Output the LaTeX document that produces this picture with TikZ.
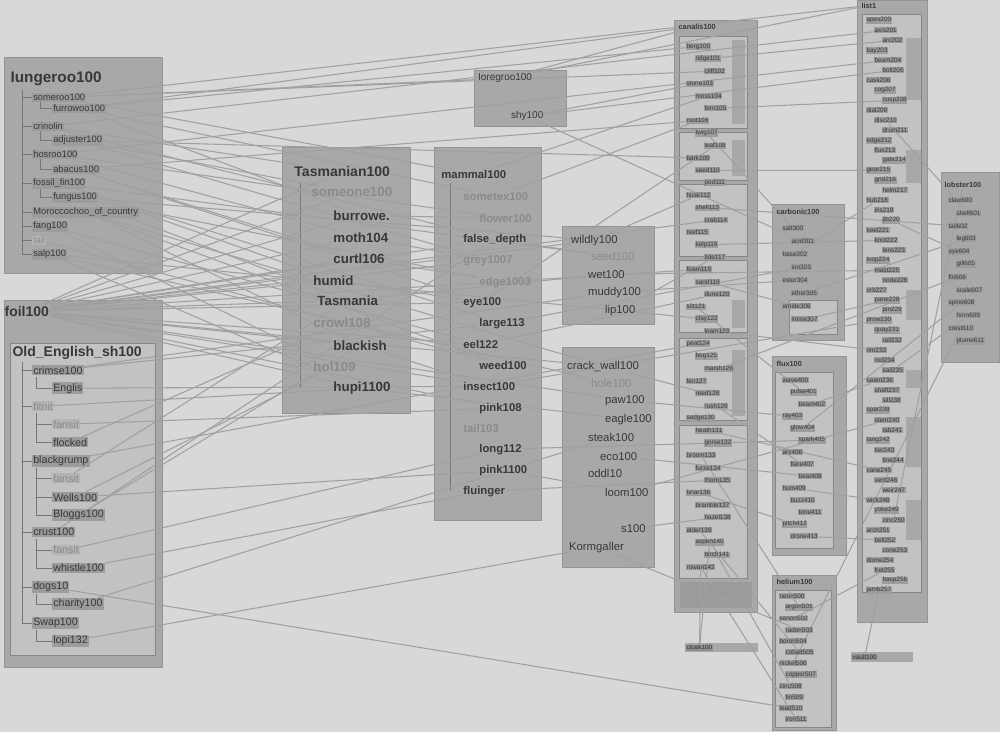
\documentclass[tikz,border=0pt]{standalone}
\usepackage{fontspec}
\setmainfont{Liberation Sans}
\pgfdeclarelayer{boxes}
\pgfdeclarelayer{links}
\pgfsetlayers{boxes,links,main}
\definecolor{bg}{HTML}{D8D8D8}
\definecolor{boxA}{HTML}{A8A8A8}
\definecolor{boxB}{HTML}{C2C2C2}
\definecolor{boxC}{HTML}{B4B4B4}
\definecolor{itemc}{HTML}{9C9C9C}
\definecolor{txt}{HTML}{383838}
\definecolor{txtL}{HTML}{8A8A8A}
\definecolor{edgec}{HTML}{A0A0A0}
\tikzset{
  bigbox/.style={fill=boxA, draw=boxA!88!black, line width=0.6pt},
  subbox/.style={fill=boxB, draw=boxA!80!black, line width=0.5pt},
  ttl/.style={anchor=west, inner sep=1pt, text=txt, font=\fontsize{10.5}{11}\selectfont\bfseries},
  itm/.style={anchor=west, inner sep=0.8pt, fill=itemc, text=txt, font=\fontsize{7}{8}\selectfont},
  itmL/.style={itm, text=txtL, fill=boxC},
  ob/.style={itm, font=\fontsize{8}{9}\selectfont},
  obL/.style={ob, text=txtL, fill=boxC},
  mid/.style={anchor=west, inner sep=1pt, text=txt, font=\fontsize{10}{11}\selectfont\bfseries},
  midL/.style={mid, text=txtL},
  mam/.style={mid, font=\fontsize{8.5}{9}\selectfont\bfseries},
  mamL/.style={mam, text=txtL},
  sm/.style={anchor=west, inner sep=0.8pt, text=txt, font=\fontsize{8.5}{9}\selectfont},
  smL/.style={sm, text=txtL},
  tiny/.style={anchor=west, inner sep=0.5pt, fill=itemc, text=txt, font=\fontsize{4.8}{5}\selectfont},
  tt/.style={tiny, fill=none, font=\fontsize{5.5}{6}\selectfont\bfseries},
  tree/.style={draw=boxA!70!black, line width=0.4pt},
  link/.style={draw=edgec, line width=0.8pt},
}
\begin{document}
\begin{tikzpicture}[x=0.75pt,y=-0.75pt]
\begin{pgfonlayer}{boxes}
\fill[bg] (0,0) rectangle (1000,732);
% ---------------- boxes ----------------
\draw[bigbox] (4,57) rectangle (162,273);
\draw[bigbox] (4,300) rectangle (162,667);
\draw[subbox] (10,343) rectangle (155,655);
\draw[bigbox] (283,147) rectangle (411,413);
\draw[bigbox] (435,147) rectangle (542,520);
\draw[bigbox] (475,70) rectangle (567,126);
\draw[bigbox] (563,226) rectangle (655,324);
\draw[bigbox] (563,347) rectangle (655,567);
% column C
\draw[bigbox] (675,20) rectangle (758,612);
\foreach \ya/\yb in {36/128,132/180,184/256,260/332,338/420,425/578}
  {\draw[subbox] (680,\ya) rectangle (748,\yb);}
\foreach \ya/\yb in {40/124,140/176,300/328,350/416}
  {\fill[boxA] (732,\ya) rectangle (745,\yb);}
\fill[boxA!92!black] (680,582) rectangle (752,608);
% boxes 9,10,11
\draw[bigbox] (773,204) rectangle (845,340);
\draw[subbox] (790,300) rectangle (838,334);
\draw[bigbox] (773,356) rectangle (847,555);
\draw[subbox] (776,372) rectangle (834,548);
\draw[bigbox] (773,575) rectangle (837,730);
\draw[subbox] (776,590) rectangle (832,727);
% column R
\draw[bigbox] (858,0) rectangle (928,622);
\draw[subbox] (863,14) rectangle (922,592);
\foreach \ya/\yb in {38/100,150/183,290/320,370/388,417/467,500/540}
  {\fill[boxA] (906,\ya) rectangle (921,\yb);}
% box 13
\draw[bigbox] (942,172) rectangle (1000,362);
% small bars
\fill[boxA] (685,643) rectangle (758,652);
\fill[boxA] (851,652) rectangle (913,662);
% ---------------- tree lines ----------------
\draw[tree] (22,90) -- (22,254);
\foreach \y in {97,126,154,183,212,226,240,254} {\draw[tree] (22,\y) -- (32,\y);}
\foreach \ya/\yb in {101/108,131/140,159/169,188/197} {\draw[tree] (40,\ya) -- (40,\yb) -- (52,\yb);}
\draw[tree] (22,362) -- (22,623);
\foreach \y in {370,406,461,532,587,623} {\draw[tree] (22,\y) -- (32,\y);}
\foreach \ya/\yb in {377/388,413/442,468/515,539/568,594/604,630/641} {\draw[tree] (36,\ya) -- (36,\yb);}
\foreach \y in {388,424,442,478,497,515,550,568,604,641} {\draw[tree] (36,\y) -- (52,\y);}
\draw[tree] (300,182) -- (300,388);
\draw[tree] (450,183) -- (450,491);
\end{pgfonlayer}
\useasboundingbox (0,0) rectangle (1000,732);

% ---------------- left top box ----------------
\node[ttl, font=\fontsize{11.5}{12}\selectfont\bfseries] (iung) at (9,78) {Iungeroo100};
\node[itm] (ia) at (32,97) {someroo100};
\node[itm] (ib) at (52,108) {furrowoo100};
\node[itm] (ic) at (32,126) {crinolin};
\node[itm] (id) at (52,140) {adjuster100};
\node[itm] (ie) at (32,154) {hosroo100};
\node[itm] (if) at (52,169) {abacus100};
\node[itm] (ig) at (32,183) {fossil\_fin100};
\node[itm] (ih) at (52,197) {fungus100};
\node[itm] (ii) at (32,212) {Moroccochoo\_of\_country};
\node[itm] (ij) at (32,226) {fang100};
\node[itmL] (ik) at (32,240) {tail};
\node[itm] (il) at (32,254) {salp100};

% ---------------- foil box ----------------
\node[ttl] (f0) at (3,311) {foil100};
\node[ttl] (oe0) at (11,353) {Old\_English\_sh100};
\node[ob] (oa) at (32,370) {crimse100};
\node[ob] (ob) at (52,388) {Englis};
\node[obL] (oc) at (32,406) {fitnit};
\node[obL] (od) at (52,424) {fansit};
\node[ob] (oe) at (52,442) {flocked};
\node[ob] (of) at (32,461) {blackgrump};
\node[obL] (og) at (52,478) {fansit};
\node[ob] (oh) at (52,497) {Wells100};
\node[ob] (oi) at (52,515) {Bloggs100};
\node[ob] (oj) at (32,532) {crust100};
\node[obL] (ok) at (52,550) {fansit};
\node[ob] (ol) at (52,568) {whistle100};
\node[ob] (om) at (32,587) {dogs10};
\node[ob] (on) at (52,604) {charity100};
\node[ob] (oo) at (32,623) {Swap100};
\node[ob] (op) at (52,641) {lopi132};

% ---------------- Tasmanian box ----------------
\node[mid, font=\fontsize{10.5}{11}\selectfont\bfseries] (ta) at (293,171) {Tasmanian100};
\node[midL] (tb) at (310,192) {someone100};
\node[mid] (tc) at (332,215) {burrowe.};
\node[mid] (td) at (332,237) {moth104};
\node[mid] (te) at (332,258) {curtl106};
\node[mid] (tf) at (312,280) {humid};
\node[mid] (tg) at (316,300) {Tasmania};
\node[midL] (th) at (312,322) {crowl108};
\node[mid] (ti) at (332,345) {blackish};
\node[midL] (tj) at (312,366) {hol109};
\node[mid] (tk) at (332,388) {hupi1100};

% ---------------- mammal box ----------------
\node[mam] (ma) at (440,174) {mammal100};
\node[mamL] (mb) at (462,196) {sometex100};
\node[mamL] (mc) at (478,218) {flower100};
\node[mam] (md) at (462,239) {false\_depth};
\node[mamL] (me) at (462,260) {grey1007};
\node[mamL] (mf) at (478,282) {edge1003};
\node[mam] (mg) at (462,302) {eye100};
\node[mam] (mh) at (478,323) {large113};
\node[mam] (mi) at (462,344) {eel122};
\node[mam] (mj) at (478,365) {weed100};
\node[mam] (mk) at (462,386) {insect100};
\node[mam] (ml) at (478,408) {pink108};
\node[mamL] (mm) at (462,428) {tail103};
\node[mam] (mn) at (478,449) {long112};
\node[mam] (mo) at (478,470) {pink1100};
\node[mam] (mp) at (462,491) {fluinger};

% ---------------- small boxes ----------------
\node[sm, font=\fontsize{7.5}{8}\selectfont] (ga) at (477,78) {Ioregroo100};
\node[sm, font=\fontsize{7.5}{8}\selectfont] (gb) at (510,116) {shy100};
\node[sm] (wa) at (570,240) {wildly100};
\node[smL] (wb) at (590,256) {seed100};
\node[sm] (wc) at (587,274) {wet100};
\node[sm] (wd) at (587,292) {muddy100};
\node[sm] (we) at (604,310) {lip100};
\node[sm] (ka) at (566,366) {crack\_wall100};
\node[smL] (kb) at (590,383) {hole100};
\node[sm] (kc) at (604,400) {paw100};
\node[sm] (kd) at (604,419) {eagle100};
\node[sm] (ke) at (587,437) {steak100};
\node[sm] (kf) at (599,456) {eco100};
\node[sm] (kg) at (587,473) {oddl10};
\node[sm] (kh) at (604,492) {loom100};
\node[sm] (ki) at (620,528) {s100};
\node[sm] (kj) at (568,547) {Kormgaller};

% ---------------- column C ----------------
\node[tt] (ct) at (678,26) {canalis100};
\foreach \w [count=\i from 0] in {berg100,ridge101,cliff102,stone103,moss104,fern105,root106,twig107,leaf108,bark109,seed110,pod111,husk112,shell113,crab114,reef115,kelp116,tide117,foam118,sand119,dune120,silt121,clay122,loam123,peat124,bog125,marsh126,fen127,reed128,rush129,sedge130,heath131,gorse132,broom133,furze134,thorn135,briar136,bramble137,hazel138,alder139,aspen140,birch141,rowan142}{
  \pgfmathsetmacro\yy{46+12.4*\i}
  \pgfmathsetmacro\xx{686+9*mod(\i,3)}
  \node[tiny] (c\i) at (\xx,\yy) {\w};
}
\node[tiny, fill=boxA!85!black] (cb) at (686,647.5) {cloak100};

% ---------------- boxes 9, 10, 11 ----------------
\node[tt] (nt) at (776,212) {carbonic100};
\foreach \w [count=\i from 0] in {salt300,acid301,base302,ion303,ester304,ether305,amide306,imine307}{
  \pgfmathsetmacro\yy{228+13*\i}
  \pgfmathsetmacro\xx{782+9*mod(\i,2)}
  \node[tiny] (n\i) at (\xx,\yy) {\w};
}
\node[tt] (pt) at (776,364) {flux100};
\foreach \w [count=\i from 0] in {wave400,pulse401,beam402,ray403,glow404,spark405,arc406,flare407,beat408,hum409,buzz410,tone411,pitch412,drone413}{
  \pgfmathsetmacro\yy{380+12*\i}
  \pgfmathsetmacro\xx{782+8*mod(\i,3)}
  \node[tiny] (p\i) at (\xx,\yy) {\w};
}
\node[tt] (qt) at (776,582) {helium100};
\foreach \w [count=\i from 0] in {neon500,argon501,xenon502,radon503,boron504,cobalt505,nickel506,copper507,zinc508,tin509,lead510,iron511}{
  \pgfmathsetmacro\yy{596+11.2*\i}
  \pgfmathsetmacro\xx{779+6*mod(\i,2)}
  \node[tiny] (q\i) at (\xx,\yy) {\w};
}

% ---------------- column R ----------------
\node[tt] (rt) at (861,5) {list1};
\foreach \w [count=\i from 0] in {apex200,axis201,arc202,bay203,beam204,bolt205,cask206,cog207,cusp208,dial209,disc210,drum211,edge212,flux213,gate214,gear215,grid216,helm217,hub218,iris219,jib220,keel221,knot222,lens223,loop224,mast225,node226,orb227,pane228,pin229,prow230,quay231,rail232,rim233,rod234,sail235,seam236,shaft237,sill238,spar239,stem240,tab241,tang242,tier243,tine244,vane245,vent246,weir247,wick248,yoke249,zinc250,arch251,bell252,cone253,dome254,fret255,hasp256,jamb257}{
  \pgfmathsetmacro\yy{20+10*\i}
  \pgfmathsetmacro\xx{866+8*mod(\i,3)}
  \node[tiny] (r\i) at (\xx,\yy) {\w};
}
\node[tiny, fill=boxA!85!black] (rb) at (852,657) {vault100};

% ---------------- box 13 ----------------
\node[tt] (st) at (944,185) {lobster100};
\foreach \w [count=\i from 0] in {claw600,shell601,tail602,leg603,eye604,gill605,fin606,scale607,spine608,horn609,crest610,plume611}{
  \pgfmathsetmacro\yy{200+12.8*\i}
  \pgfmathsetmacro\xx{948+8*mod(\i,2)}
  \node[tiny] (s\i) at (\xx,\yy) {\w};
}

% ---------------- connectors ----------------
\begin{pgfonlayer}{links}
\foreach \a/\b in {ia/ga,ia/c2,ia/rt,ia/ma,ib/tc,ib/mb,ib/c0,ib/ct,ic/ta,ic/md,ic/r1,id/tb,id/c9,id/me,ie/td,ie/r4,ie/mc,if/te,if/mg,if/c6,ig/tf,ig/mh,ig/wb,ih/tg,ih/wa,ih/mf,ii/ti,ii/ka,ii/mj,ij/mi,ij/tj,ik/mj,il/tk,il/c22,il/kb,
  f0/tc,f0/td,f0/te,f0/tf,f0/tg,f0/ti,f0/tk,f0/mg,f0/mi,f0/mk,f0/ml,f0/ka,f0/kc,f0/wa,f0/c14,f0/c18,f0/ta,f0/tb,f0/md,f0/me,
  oa/mh,ob/mk,oc/tk,od/ml,oe/th,of/c24,oh/tj,oi/ti,ol/mp,om/q10,on/ke,op/kj,oj/md,ok/mn,og/tg,oh/mo,oa/wd,
  tc/mc,td/me,te/mf,tk/kd,tg/wc,ti/mk,tf/mg,
  ma/c4,mb/c6,mg/c8,mi/c20,mk/r30,mp/c35,md/wb,mh/n3,mn/p5,mo/kh,
  ga/ct,ga/rt,gb/c3,gb/r5,gb/n1,
  wa/c12,wc/r25,wd/n4,we/c17,ka/c28,kc/p3,kh/r40,kj/q3,ki/c38,kf/p8,
  c1/r2,c5/r8,c7/n0,c10/r15,c13/s2,c16/r22,c19/n6,c21/p1,c23/r33,c26/s6,c29/p7,c31/r45,c33/q1,c36/p12,c39/q5,c41/q8,c42/q11,
  n2/r18,n5/s3,n7/r28,p2/r36,p4/s8,p9/r48,p13/r52,q2/r55,q6/s10,
  r10/s1,r20/s4,r35/s9,r50/st,r57/rb,c42/cb,c40/cb}
  {\draw[link] (\a) -- (\b);}
\end{pgfonlayer}
\end{tikzpicture}
\end{document}
